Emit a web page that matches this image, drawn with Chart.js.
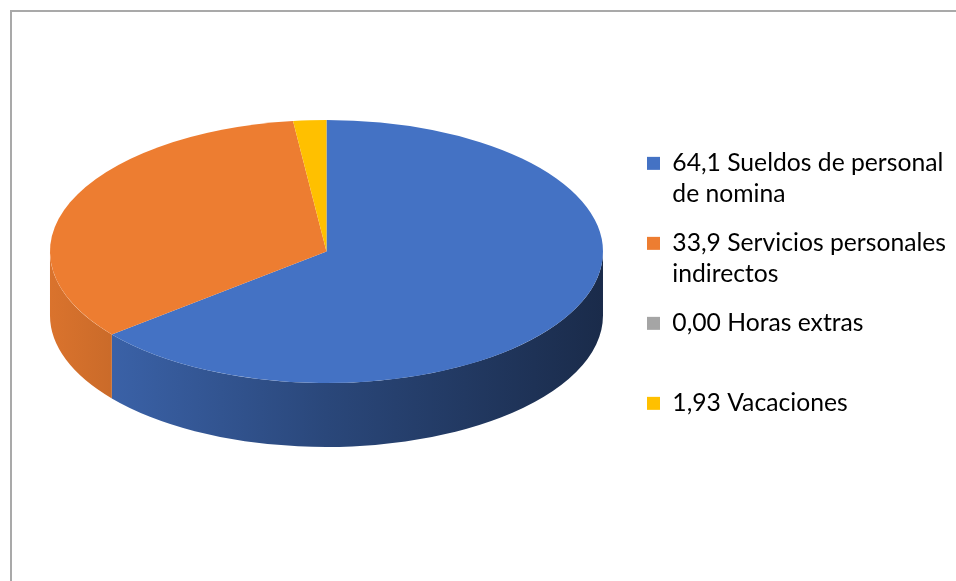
<!DOCTYPE html>
<html>
<head>
<meta charset="utf-8">
<script src="https://cdn.jsdelivr.net/npm/chart.js@4.4.1/dist/chart.umd.min.js"></script>
<style>
  html, body { margin: 0; padding: 0; background: #fff; }
  #wrap { position: relative; width: 956px; height: 581px; overflow: hidden; }
  #frame { position: absolute; left: 10px; top: 10px; width: 960px; height: 600px;
           border-top: 2px solid #a9a9a9; border-left: 2px solid #a9a9a9; }
  canvas { position: absolute; left: 0; top: 0; }
</style>
</head>
<body>
<div id="wrap">
  <div id="frame"></div>
  <canvas id="pie" width="956" height="581"></canvas>
</div>
<script>
const categories  = ["Sueldos de personal de nomina", "Servicios personales indirectos", "Horas extras", "Vacaciones"];
const values      = [64.1, 33.9, 0.00, 1.93];
const valueLabels = ["64,1", "33,9", "0,00", "1,93"];
const colors      = ["#4472C4", "#ED7D31", "#A5A5A5", "#FFC000"];

const FONT = "Lato, 'Open Sans', sans-serif";
const FONT_SIZE = 24.7;

// darken a hex colour by factor f
const shade = (hex, f) => {
  const n = parseInt(hex.slice(1), 16);
  const c = [(n >> 16) & 255, (n >> 8) & 255, n & 255].map(v => Math.round(v * f));
  return `rgb(${c[0]},${c[1]},${c[2]})`;
};

function wrap(ctx, text, maxW, minLines) {
  const lines = [];
  let cur = "";
  for (const w of text.split(" ")) {
    const t = cur ? cur + " " + w : w;
    if (cur && ctx.measureText(t).width > maxW) { lines.push(cur); cur = w; }
    else cur = t;
  }
  lines.push(cur);
  while (lines.length < minLines) lines.push("");
  return lines;
}

// squash the pie into an ellipse and put a side wall under the front half
const pie3d = {
  id: "pie3d",
  beforeDatasetsDraw(chart, args, opts) {
    const ctx = chart.ctx;
    const arcs = chart.getDatasetMeta(0).data;
    const {x: cx, y: cy, outerRadius: r} = arcs[0].getProps(["x", "y", "outerRadius"], true);
    const ry = r * opts.tilt;
    arcs.forEach(arc => {
      const {startAngle, endAngle} = arc.getProps(["startAngle", "endAngle"], true);
      const g = ctx.createLinearGradient(cx - r, 0, cx + r, 0);
      opts.sideShade.forEach(([stop, f]) => g.addColorStop(stop, shade(arc.options.backgroundColor, f)));
      ctx.fillStyle = g;
      for (let k = -1; k <= 1; k++) {
        const a0 = Math.max(startAngle + k * 2 * Math.PI, 0);
        const a1 = Math.min(endAngle + k * 2 * Math.PI, Math.PI);
        if (a1 <= a0) continue;
        ctx.beginPath();
        ctx.ellipse(cx, cy, r, ry, 0, a0, a1);
        ctx.ellipse(cx, cy + opts.depth, r, ry, 0, a1, a0, true);
        ctx.closePath();
        ctx.fill();
      }
    });
    ctx.save();
    ctx.translate(cx, cy);
    ctx.scale(1, opts.tilt);
    ctx.translate(-cx, -cy);
  },
  afterDatasetsDraw(chart) {
    chart.ctx.restore();
  }
};

new Chart(document.getElementById("pie"), {
  type: "pie",
  data: {
    labels: categories,
    datasets: [{
      data: values,
      backgroundColor: colors,
      borderWidth: 0,
      radius: 276.5,
      clip: false,
    }],
  },
  plugins: [pie3d],
  options: {
    responsive: false,
    animation: false,
    events: [],
    layout: {padding: {left: 24, right: 0, top: 32, bottom: 110}},
    plugins: {
      pie3d: {tilt: 0.4756, depth: 64, sideShade: [[0, 0.92], [0.5, 0.62], [1, 0.38]]},
      tooltip: {enabled: false},
      legend: {
        position: "right",
        align: "end",
        labels: {
          color: "#000",
          font: {family: FONT, size: FONT_SIZE, lineHeight: 1.255},
          boxWidth: 13,
          boxHeight: 13,
          padding: 18,
          generateLabels(chart) {
            const items = Chart.overrides.pie.plugins.legend.labels.generateLabels(chart);
            const ctx = chart.ctx;
            ctx.save();
            ctx.font = `${FONT_SIZE}px ${FONT}`;
            items.forEach((it, i) => {
              it.text = wrap(ctx, valueLabels[i] + " " + categories[i], 290, 2);
              it.lineWidth = 0;
            });
            ctx.restore();
            return items;
          },
        },
      },
    },
  },
});
</script>
</body>
</html>
